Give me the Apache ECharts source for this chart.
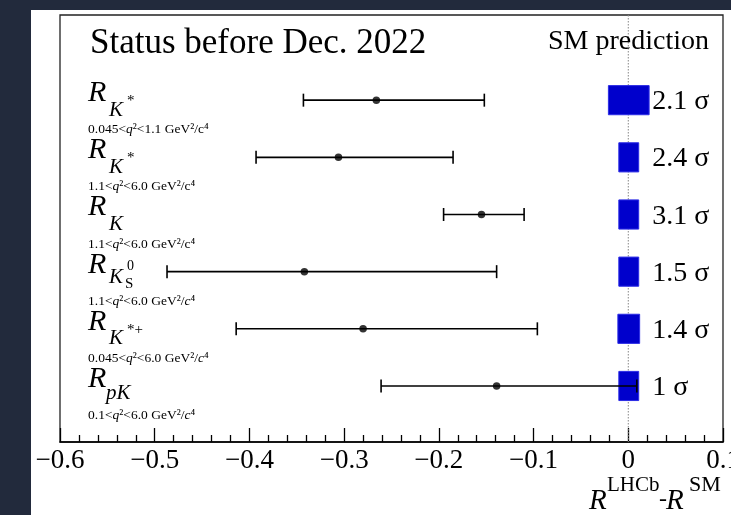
<!DOCTYPE html>
<html>
<head>
<meta charset="utf-8">
<script src="https://cdn.jsdelivr.net/npm/echarts@6/dist/echarts.min.js"></script>
<style>
  html, body { margin: 0; padding: 0; background: #222a3c; }
  #wrap { position: relative; width: 731px; height: 515px; background: #222a3c; overflow: hidden; }
  #paper { position: absolute; left: 31px; top: 10px; right: 0; bottom: 0; background: #ffffff; }
  #chart { position: absolute; left: 0; top: 0; width: 731px; height: 515px; }
</style>
</head>
<body>
<div id="wrap"><div id="paper"></div><div id="chart"></div></div>
<script>
const SERIF = "'Liberation Serif', 'DejaVu Serif', serif";

// Measurements, listed top to bottom
const rowSub = ['K', 'K', 'K', 'K', 'K', 'pK'];
const rowSup = ['*', '*', '', '0', '*+', ''];
const rowSubSub = ['', '', '', 'S', '', ''];
const rowRange = ['0.045<q²<1.1', '1.1<q²<6.0', '1.1<q²<6.0', '1.1<q²<6.0', '0.045<q²<6.0', '0.1<q²<6.0'];
const rowItalicC = [false, false, false, true, true, true];

// R(LHCb) - R(SM): central value and 1-sigma interval
const centralValues = [-0.266, -0.306, -0.155, -0.342, -0.280, -0.139];
const errorLow = [-0.343, -0.393, -0.195, -0.487, -0.414, -0.261];
const errorHigh = [-0.152, -0.185, -0.110, -0.139, -0.096, 0.009];

// SM prediction uncertainty band around zero
const smLow = [-0.021, -0.010, -0.010, -0.010, -0.011, -0.010];
const smHigh = [0.022, 0.011, 0.011, 0.011, 0.012, 0.011];

// Tension with the SM
const significance = ['2.1 σ', '2.4 σ', '3.1 σ', '1.5 σ', '1.4 σ', '1 σ'];

// x axis ticks
const xMin = -0.6, xMax = 0.1, xStep = 0.1;

const rowIdx = centralValues.map((_, i) => i);

function textEl(x, baseline, str, size, italic, extra) {
  const mid = baseline - 0.33 * size;
  return {
    type: 'text',
    style: Object.assign({
      text: str, x: x, y: mid, fill: '#000',
      font: (italic ? 'italic ' : '') + size + 'px ' + SERIF,
      align: 'left', verticalAlign: 'middle',
      textAlign: 'left', textVerticalAlign: 'middle'
    }, extra || {})
  };
}

function fmtTick(v) {
  const r = Math.round(v * 10) / 10;
  if (r === 0) return '0';
  return String(r).replace('-', '\u2212');
}

const chart = echarts.init(document.getElementById('chart'), null, { renderer: 'canvas' });

const option = {
  backgroundColor: 'transparent',
  animation: false,
  grid: {
    left: 60, right: 8, top: 15, bottom: 73,
    containLabel: false, outerBoundsMode: 'none',
    show: true, borderColor: '#222', borderWidth: 1.3, backgroundColor: 'transparent'
  },
  xAxis: {
    type: 'value', min: xMin, max: xMax, interval: xStep, position: 'bottom',
    axisLine: { show: true, onZero: false, lineStyle: { color: '#000', width: 1.5 } },
    axisTick: { show: true, inside: true, length: 14, lineStyle: { color: '#000', width: 1.3 } },
    minorTick: { show: true, splitNumber: 5, length: 7, lineStyle: { color: '#000', width: 1.3 } },
    splitLine: { show: false },
    minorSplitLine: { show: false },
    axisLabel: {
      fontFamily: SERIF, fontSize: 27, color: '#000', margin: 5,
      showMinLabel: true, showMaxLabel: true, hideOverlap: false,
      formatter: fmtTick
    }
  },
  yAxis: {
    type: 'value', inverse: true, min: -1.49, max: 5.98, show: false
  },
  graphic: [
    Object.assign(textEl(90, 55, 'Status before Dec. 2022', 35, false), { z: 10 }),
    Object.assign(textEl(548, 51, 'SM prediction', 28, false), { z: 10 }),
    Object.assign(textEl(589, 511, 'R', 29, true), { z: 10 }),
    Object.assign(textEl(607, 492, 'LHCb', 21, false), { z: 10 }),
    Object.assign(textEl(659, 508, '-', 24, false), { z: 10 }),
    Object.assign(textEl(666, 511, 'R', 29, true), { z: 10 }),
    Object.assign(textEl(689, 492, 'SM', 22, false), { z: 10 })
  ],
  series: [
    {
      // SM reference line at zero, behind the bands
      type: 'custom', z: 1, silent: true,
      data: [[0, 0]],
      encode: { x: 0, y: 1 },
      renderItem: function (params, api) {
        const x = api.coord([api.value(0), 0])[0];
        const cs = params.coordSys;
        return {
          type: 'line',
          shape: { x1: x, y1: cs.y, x2: x, y2: cs.y + cs.height },
          style: { stroke: '#888', lineWidth: 1, lineDash: [1.5, 1.5] }
        };
      }
    },
    {
      // SM prediction bands with significance labels
      type: 'custom', z: 3,
      data: rowIdx.map(i => [smLow[i], smHigh[i], i]),
      encode: { x: [0, 1], y: 2 },
      renderItem: function (params, api) {
        const i = api.value(2);
        const a = api.coord([api.value(0), i]);
        const b = api.coord([api.value(1), i]);
        const h = api.size([0, 0.51])[1];
        const zero = api.coord([0, i]);
        return {
          type: 'group',
          children: [
            { type: 'rect', shape: { x: a[0], y: a[1] - h / 2, width: b[0] - a[0], height: h },
              style: { fill: '#0000cc', stroke: '#2c2ce6', lineWidth: 1 } },
            textEl(zero[0] + 24, a[1] + 11, significance[params.dataIndex], 28, false)
          ]
        };
      }
    },
    {
      // LHCb error bars
      type: 'custom', z: 4,
      data: rowIdx.map(i => [errorLow[i], errorHigh[i], i]),
      encode: { x: [0, 1], y: 2 },
      renderItem: function (params, api) {
        const i = api.value(2);
        const a = api.coord([api.value(0), i]);
        const b = api.coord([api.value(1), i]);
        const c = 6.5;
        const st = { stroke: '#000', lineWidth: 1.6 };
        return {
          type: 'group',
          children: [
            { type: 'line', shape: { x1: a[0], y1: a[1], x2: b[0], y2: b[1] }, style: st },
            { type: 'line', shape: { x1: a[0], y1: a[1] - c, x2: a[0], y2: a[1] + c }, style: st },
            { type: 'line', shape: { x1: b[0], y1: b[1] - c, x2: b[0], y2: b[1] + c }, style: st }
          ]
        };
      }
    },
    {
      // central values
      type: 'scatter', z: 5, symbol: 'circle', symbolSize: 7.5,
      itemStyle: { color: '#000' },
      data: rowIdx.map(i => [centralValues[i], i])
    },
    {
      // ratio names and q^2 ranges
      type: 'custom', z: 5,
      data: rowIdx.map(i => [xMin, i]),
      encode: { x: 0, y: 1 },
      renderItem: function (params, api) {
        const k = params.dataIndex;
        const y0 = api.coord([xMin, k])[1];
        const lx = params.coordSys.x + 28;
        const kids = [];
        kids.push(textEl(lx, y0 + 3, 'R', 30, true));
        if (rowSubSub[k]) {
          kids.push(textEl(lx + 21, y0 + 13, rowSub[k], 21, true));
          kids.push(textEl(lx + 39, y0 - 1, rowSup[k], 14, false));
          kids.push(textEl(lx + 37, y0 + 17, rowSubSub[k], 15, false));
        } else {
          const subX = rowSub[k].length > 1 ? lx + 18 : lx + 21;
          const subBase = rowSub[k].length > 1 ? y0 + 14 : y0 + 17;
          kids.push(textEl(subX, subBase, rowSub[k], 21, true));
          if (rowSup[k]) kids.push(textEl(lx + 39, y0 + 6, rowSup[k], 15, false));
        }
        const parts = rowRange[k].split('q');
        const cTok = rowItalicC[k] ? '{i|c}' : '{n|c}';
        const rich = {
          n: { fontFamily: SERIF, fontSize: 13.5, fontStyle: 'normal', fill: '#000', color: '#000' },
          i: { fontFamily: SERIF, fontSize: 13.5, fontStyle: 'italic', fill: '#000', color: '#000' }
        };
        const rangeText = '{n|' + parts[0] + '}{i|q}{n|' + parts[1] + ' GeV²/}' + cTok + '{n|⁴}';
        kids.push(textEl(lx, y0 + 34, rangeText, 13.5, false, { rich: rich }));
        return { type: 'group', children: kids };
      }
    }
  ]
};

chart.setOption(option);
</script>
</body>
</html>
